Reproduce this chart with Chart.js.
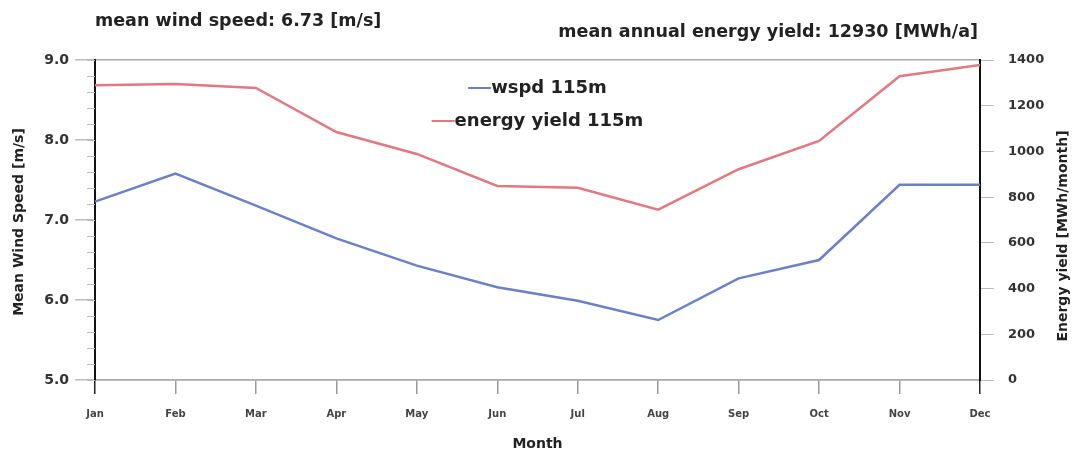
<!DOCTYPE html>
<html>
<head>
<meta charset="utf-8">
<script src="https://cdn.jsdelivr.net/npm/chart.js@4.4.0/dist/chart.umd.min.js"></script>
<style>
  html, body { margin: 0; padding: 0; background: #fff; }
  #wrap { width: 1082px; height: 455px; position: relative; }
</style>
</head>
<body>
<div id="wrap"><canvas id="windChart"></canvas></div>
<script>
const months = ['Jan', 'Feb', 'Mar', 'Apr', 'May', 'Jun', 'Jul', 'Aug', 'Sep', 'Oct', 'Nov', 'Dec'];
const windSpeed = [7.23, 7.58, 7.18, 6.77, 6.43, 6.16, 5.99, 5.75, 6.27, 6.50, 7.44, 7.44];
const energyYield = [1290, 1295, 1278, 1085, 989, 849, 841, 745, 922, 1046, 1329, 1378];
const windTicks = [5, 6, 7, 8, 9];
const energyTicks = [0, 200, 400, 600, 800, 1000, 1200, 1400];
const meanWind = 6.73;
const meanEnergy = 12930;

const FONT = '"DejaVu Sans", Verdana, sans-serif';
const blue = '#6c80c8';
const red = '#e27882';

// small outward ticks every 0.2 m/s on the left axis
const minorTicks = {
  id: 'minorTicks',
  afterDatasetsDraw(chart) {
    const s = chart.scales.y;
    const ctx = chart.ctx;
    ctx.save();
    ctx.strokeStyle = '#bbb';
    ctx.lineWidth = 1;
    for (let v = windTicks[0]; v < windTicks[windTicks.length - 1]; v += 0.2) {
      const y = Math.round(s.getPixelForValue(v)) + 0.5;
      ctx.beginPath();
      ctx.moveTo(s.right - 8, y);
      ctx.lineTo(s.right, y);
      ctx.stroke();
    }
    ctx.restore();
  }
};

// titles, axis titles and the legend inside the plot
const extraText = {
  id: 'extraText',
  afterDraw(chart) {
    const ctx = chart.ctx;
    const a = chart.chartArea;
    ctx.save();
    ctx.fillStyle = '#222';
    ctx.textBaseline = 'middle';

    ctx.font = 'bold 17.5px ' + FONT;
    ctx.textAlign = 'left';
    ctx.fillText('mean wind speed: ' + meanWind.toFixed(2) + ' [m/s]', 95, 21);
    ctx.textAlign = 'right';
    ctx.fillText('mean annual energy yield: ' + meanEnergy + ' [MWh/a]', 978, 32);

    ctx.font = 'bold 14px ' + FONT;
    ctx.textAlign = 'center';
    ctx.save();
    ctx.translate(19, 222);
    ctx.rotate(-Math.PI / 2);
    ctx.fillText('Mean Wind Speed [m/s]', 0, 0);
    ctx.restore();
    ctx.save();
    ctx.translate(1063, 236);
    ctx.rotate(-Math.PI / 2);
    ctx.fillText('Energy yield [MWh/month]', 0, 0);
    ctx.restore();

    ctx.font = 'bold 14px ' + FONT;
    ctx.fillText('Month', (a.left + a.right) / 2, 444);

    // legend
    const cx = (a.left + a.right) / 2;
    ctx.font = 'bold 18px ' + FONT;
    ctx.textAlign = 'left';
    chart.data.datasets.forEach((ds, i) => {
      const y = 88 + i * 33;
      const w = ctx.measureText(ds.label).width;
      const lineLen = 23;
      const x0 = cx - (lineLen + w) / 2;
      ctx.strokeStyle = ds.borderColor;
      ctx.lineWidth = 2;
      ctx.beginPath();
      ctx.moveTo(x0, y);
      ctx.lineTo(x0 + lineLen, y);
      ctx.stroke();
      ctx.fillText(ds.label, x0 + lineLen, y);
    });
    ctx.restore();
  }
};

new Chart(document.getElementById('windChart'), {
  type: 'line',
  data: {
    labels: months,
    datasets: [
      {
        label: 'wspd 115m',
        data: windSpeed,
        yAxisID: 'y',
        borderColor: blue,
        borderWidth: 2.5,
        pointRadius: 0,
        tension: 0,
        fill: false
      },
      {
        label: 'energy yield 115m',
        data: energyYield,
        yAxisID: 'y1',
        borderColor: red,
        borderWidth: 2.5,
        pointRadius: 0,
        tension: 0,
        fill: false
      }
    ]
  },
  options: {
    responsive: true,
    maintainAspectRatio: false,
    animation: false,
    layout: { padding: { top: 60, left: 0, right: 0, bottom: 0 } },
    plugins: {
      legend: { display: false },
      title: { display: false },
      tooltip: { enabled: false }
    },
    scales: {
      x: {
        offset: false,
        grid: {
          drawOnChartArea: false,
          tickLength: 14,
          tickColor: c => (c.index === 0 || c.index === months.length - 1) ? '#222' : '#999',
          lineWidth: 1.5
        },
        border: { color: '#aaa', width: 1.5 },
        ticks: { font: { family: FONT, size: 10, weight: 'bold' }, color: '#444', padding: 14, maxRotation: 0, autoSkip: false },
        afterFit: s => { s.height = 75; }
      },
      y: {
        position: 'left',
        min: windTicks[0],
        max: windTicks[windTicks.length - 1],
        afterBuildTicks: s => { s.ticks = windTicks.map(v => ({ value: v })); },
        ticks: { callback: v => v.toFixed(1), font: { family: FONT, size: 14, weight: 'bold' }, color: '#333', padding: 6 },
        grid: {
          color: c => (c.tick && (c.tick.value === 9 || c.tick.value === 5)) ? '#aaa' : 'rgba(0,0,0,0)',
          tickColor: '#bbb',
          tickLength: 20,
          lineWidth: 1.5
        },
        border: { color: '#111', width: 2 },
        afterFit: s => { s.width = 95; }
      },
      y1: {
        position: 'right',
        min: energyTicks[0],
        max: energyTicks[energyTicks.length - 1],
        afterBuildTicks: s => { s.ticks = energyTicks.map(v => ({ value: v })); },
        ticks: { callback: v => String(v), font: { family: FONT, size: 13, weight: 'bold' }, color: '#333', padding: 14 },
        grid: { drawOnChartArea: false, tickColor: '#bbb', tickLength: 14 },
        border: { color: '#111', width: 2 },
        afterFit: s => { s.width = 102; }
      }
    }
  },
  plugins: [minorTicks, extraText]
});
</script>
</body>
</html>
